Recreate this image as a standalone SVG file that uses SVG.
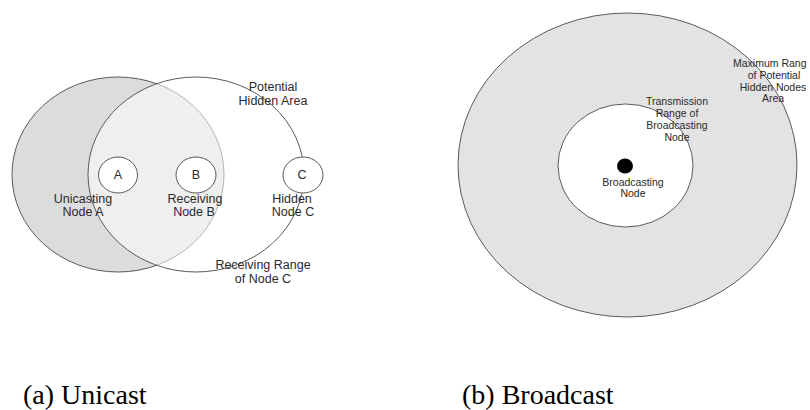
<svg xmlns="http://www.w3.org/2000/svg" width="810" height="410" viewBox="0 0 810 410">
<style>
.rng{stroke:#5a5a5a;stroke-width:1}
.nd{fill:#ffffff;stroke:#5a5a5a;stroke-width:1}
.lb{font-family:"Liberation Sans",Arial,sans-serif;font-size:12.5px;fill:#2a2a2a;text-anchor:middle}
.lb2{font-family:"Liberation Sans",Arial,sans-serif;font-size:10.5px;fill:#2a2a2a;text-anchor:middle}
.cap{font-family:"Liberation Serif","Times New Roman",serif;font-size:28px;fill:#000000}
</style>
<rect width="810" height="410" fill="#ffffff"/>
<g id="range-a">
<ellipse class="rng" cx="118" cy="174.5" rx="106" ry="97.5" fill="#dcdcdc"/>
</g>
<g id="range-c">
<ellipse class="rng" cx="196" cy="174.5" rx="108" ry="97.5" fill="#ffffff" fill-opacity="0.55"/>
</g>
<g id="node-a">
<ellipse class="nd" cx="118" cy="175" rx="19.5" ry="18"/>
<text class="lb" x="118" y="179">A</text>
<text class="lb" x="83" y="203">Unicasting</text>
<text class="lb" x="83" y="216">Node A</text>
</g>
<g id="node-b">
<ellipse class="nd" cx="196" cy="175" rx="20" ry="18"/>
<text class="lb" x="196" y="179">B</text>
<text class="lb" x="195" y="203">Receiving</text>
<text class="lb" x="194" y="216">Node B</text>
</g>
<g id="node-c">
<ellipse class="nd" cx="303" cy="175" rx="20" ry="18"/>
<text class="lb" x="302" y="179">C</text>
<text class="lb" x="292" y="203">Hidden</text>
<text class="lb" x="293" y="216">Node C</text>
</g>
<g id="label-hidden-area">
<text class="lb" x="273" y="91">Potential</text>
<text class="lb" x="273" y="105">Hidden Area</text>
</g>
<g id="label-receiving-range">
<text class="lb" x="263" y="269">Receiving Range</text>
<text class="lb" x="263" y="283">of Node C</text>
</g>
<g id="max-range">
<ellipse class="rng" cx="627.5" cy="165" rx="169.5" ry="152" fill="#e3e3e3"/>
<text class="lb2" x="733" y="67" style="text-anchor:start">Maximum Rang</text>
<text class="lb2" x="774" y="79">of Potential</text>
<text class="lb2" x="773" y="91">Hidden Nodes</text>
<text class="lb2" x="773" y="102">Area</text>
</g>
<g id="tx-range">
<ellipse class="rng" cx="625.5" cy="165.5" rx="67.5" ry="61.5" fill="#ffffff"/>
<text class="lb2" x="677" y="105">Transmission</text>
<text class="lb2" x="677" y="117">Range of</text>
<text class="lb2" x="677" y="129">Broadcasting</text>
<text class="lb2" x="677" y="141">Node</text>
</g>
<g id="broadcasting-node">
<ellipse cx="625" cy="166" rx="8" ry="7.5" fill="#000000"/>
<text class="lb2" x="633" y="186">Broadcasting</text>
<text class="lb2" x="633" y="197">Node</text>
</g>
<g id="connectors"></g>
<g id="captions">
<text class="cap" x="23" y="404">(a) Unicast</text>
<text class="cap" x="462" y="404">(b) Broadcast</text>
</g>
</svg>
